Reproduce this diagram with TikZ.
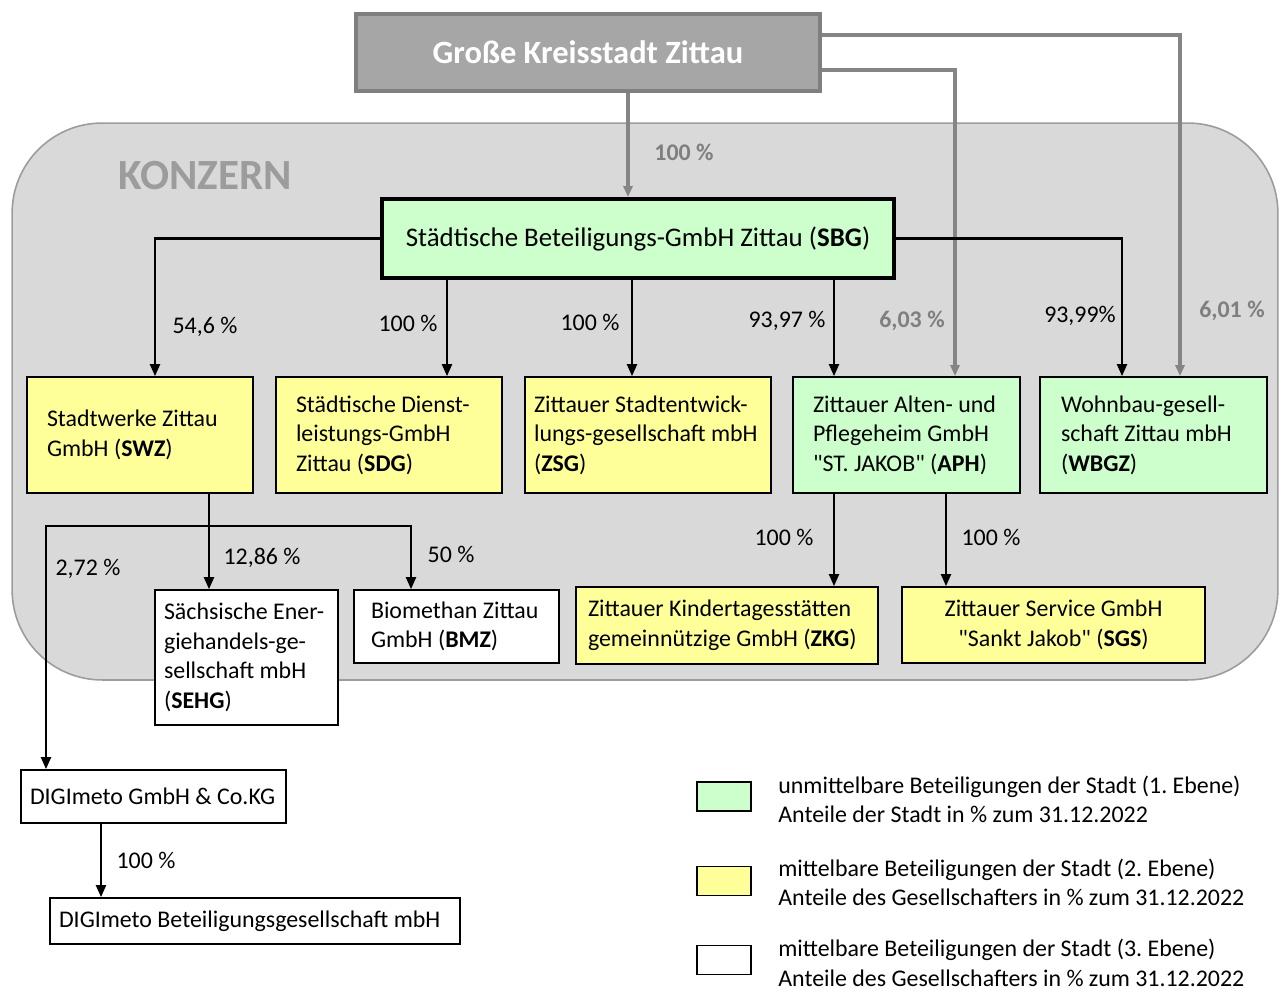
\documentclass[tikz,border=0pt]{standalone}
\usepackage{fontspec}
\setmainfont{Carlito}
\usepackage{xcolor}
\definecolor{konzFill}{HTML}{D9D9D9}
\definecolor{konzBorder}{HTML}{9C9C9C}
\definecolor{stadtFill}{HTML}{A6A6A6}
\definecolor{stadtBorder}{HTML}{7F7F7F}
\definecolor{lineGray}{HTML}{858585}
\definecolor{levelOne}{HTML}{CCFFCC}
\definecolor{levelTwo}{HTML}{FFFF99}
\usetikzlibrary{arrows.meta,positioning}
\newcommand{\boxfont}{\fontsize{13.6}{16.8}\selectfont}
\tikzset{
    firm/.style={
        draw=black,
        rectangle,
        line width=1pt,
        align=flush left,
        inner ysep=0pt,
        font=\boxfont
    },
    levelone/.style={firm, fill=levelOne},
    leveltwo/.style={firm, fill=levelTwo},
    levelthree/.style={firm, fill=white},
    stadt/.style={
        draw=stadtBorder,
        fill=stadtFill,
        line width=1.8pt,
        text=white,
        font=\fontsize{18.5}{22}\selectfont\bfseries
    },
    konzern/.style={
        draw=konzBorder,
        fill=konzFill,
        line width=0.9pt,
        rounded corners=1.8cm
    },
    link/.style={
        -{Triangle[length=0.24cm,width=0.2cm]},
        line width=1.2pt
    },
    cityline/.style={
        -{Triangle[length=0.22cm,width=0.18cm]},
        line width=1.8pt,
        draw=lineGray
    },
    share/.style={font=\boxfont, inner sep=1pt},
    cityshare/.style={font=\boxfont\bfseries, text=stadtBorder, inner sep=1pt},
    keytext/.style={anchor=west, align=flush left, inner sep=0pt, font=\boxfont}
}
\begin{document}
\begin{tikzpicture}[x=0.02cm, y=-0.02cm]
    \useasboundingbox (0,0) rectangle (1285,992);

    % Konzern area
    \node[konzern, minimum width=25.32cm, minimum height=11.14cm] (konzern) at (645,401.5) {};
    \node[font=\fontsize{24.5}{28}\selectfont\bfseries, text=konzBorder] (konzernlabel) at (205,176) {KONZERN};

    % Stadt
    \node[stadt, minimum width=9.28cm, minimum height=1.54cm] (stadt) at (588,52.5) {Große Kreisstadt Zittau};

    % 1. Ebene
    \node[levelone, minimum width=10.24cm, minimum height=1.58cm, line width=2.2pt, align=center,
          font=\fontsize{15.3}{18}\selectfont] (sbg) at (638,238.5)
        {Städtische Beteiligungs-GmbH Zittau (\textbf{SBG})};
    \node[levelone, text width=3.74cm, inner xsep=0.4cm, minimum height=2.32cm] (aph) at (906.5,435)
        {Zittauer Alten- und\\Pflegeheim GmbH\\\textquotedbl ST. JAKOB\textquotedbl{} (\textbf{APH})};
    \node[levelone, text width=3.70cm, inner xsep=0.42cm, minimum height=2.32cm] (wbgz) at (1153.5,435)
        {Wohnbau-gesell-\\schaft Zittau mbH\\(\textbf{WBGZ})};

    % 2. Ebene
    \node[leveltwo, text width=3.72cm, inner xsep=0.4cm, minimum height=2.32cm] (swz) at (140,435)
        {Stadtwerke Zittau\\GmbH (\textbf{SWZ})};
    \node[leveltwo, text width=3.72cm, inner xsep=0.4cm, minimum height=2.32cm] (sdg) at (389,435)
        {Städtische Dienst-\\leistungs-GmbH\\Zittau (\textbf{SDG})};
    \node[leveltwo, text width=4.56cm, inner xsep=0.18cm, minimum height=2.32cm] (zsg) at (648,435)
        {Zittauer Stadtentwick-\\lungs-gesellschaft mbH\\(\textbf{ZSG})};
    \node[leveltwo, text width=5.56cm, inner xsep=0.24cm, minimum height=1.54cm] (zkg) at (727,625.5)
        {Zittauer Kindertagesstätten\\gemeinnützige GmbH (\textbf{ZKG})};
    \node[leveltwo, minimum width=6.06cm, minimum height=1.52cm, align=center] (sgs) at (1053.5,625)
        {Zittauer Service GmbH\\\textquotedbl Sankt Jakob\textquotedbl{} (\textbf{SGS})};

    % 3. Ebene
    \node[levelthree, text width=3.30cm, inner xsep=0.18cm, minimum height=2.70cm] (sehg) at (246.5,657.5)
        {Sächsische Ener-\\giehandels-ge-\\sellschaft mbH\\(\textbf{SEHG})};
    \node[levelthree, text width=3.42cm, inner xsep=0.34cm, minimum height=1.46cm] (bmz) at (456.5,626.5)
        {Biomethan Zittau\\GmbH (\textbf{BMZ})};
    \node[levelthree, text width=4.94cm, inner xsep=0.18cm, minimum height=1.06cm] (digone) at (153.5,796.5)
        {DIGImeto GmbH \& Co.KG};
    \node[levelthree, text width=7.84cm, inner xsep=0.18cm, minimum height=0.92cm] (digtwo) at (255,921)
        {DIGImeto Beteiligungsgesellschaft mbH};

    % Stadt connectors
    \draw[cityline] (stadt.south -| 628,0) -- (sbg.north -| 628,0);
    \draw[cityline] (stadt.east |- 0,35) -| (wbgz.north -| 1180,0);
    \draw[cityline] (stadt.east |- 0,70) -| (aph.north -| 955,0);
    \node[cityshare] (s100) at (684,152) {100 \%};
    \node[cityshare] (s603) at (912,321) {6,03 \%};
    \node[cityshare] (s601) at (1232,311) {6,01 \%};

    % SBG connectors
    \draw[link] (sbg.west) -| (swz.north -| 155,0);
    \draw[link] (sbg.south -| 447,0) -- (sdg.north -| 447,0);
    \draw[link] (sbg.south -| 632,0) -- (zsg.north -| 632,0);
    \draw[link] (sbg.south -| 834,0) -- (aph.north -| 834,0);
    \draw[link] (sbg.east) -| (wbgz.north -| 1122,0);
    \node[share] (pswz) at (205,327) {54,6 \%};
    \node[share] (psdg) at (408,323) {100 \%};
    \node[share] (pzsg) at (590,322) {100 \%};
    \node[share] (paph) at (787,321) {93,97 \%};
    \node[share] (pwbgz) at (1080,316) {93,99\%};

    % SWZ connectors
    \coordinate (split) at (209,526);
    \draw[link] (swz.south -| split) -- (sehg.north -| split);
    \draw[link] (split) -| (bmz.north -| 411,0);
    \draw[link] (split) -| (digone.north -| 46,0);
    \node[share] (psehg) at (262,558) {12,86 \%};
    \node[share] (pbmz) at (451,554) {50 \%};
    \node[share] (pdig) at (88,569) {2,72 \%};

    % APH connectors
    \draw[link] (aph.south -| 834,0) -- (zkg.north -| 834,0);
    \draw[link] (aph.south -| 946,0) -- (sgs.north -| 946,0);
    \node[share] (pzkg) at (784,537) {100 \%};
    \node[share] (psgs) at (991,537) {100 \%};

    % DIGImeto
    \draw[link] (digone.south -| 101,0) -- (digtwo.north -| 101,0);
    \node[share] (pdigtwo) at (146,860) {100 \%};

    % Legend
    \node[levelone, minimum width=1.08cm, minimum height=0.58cm] (keyone) at (724,796.5) {};
    \node[leveltwo, minimum width=1.08cm, minimum height=0.58cm] (keytwo) at (724,881) {};
    \node[levelthree, minimum width=1.08cm, minimum height=0.58cm] (keythree) at (724,960) {};
    \node[keytext] (keyonetext) at (778,799.5)
        {unmittelbare Beteiligungen der Stadt (1.\ Ebene)\\Anteile der Stadt in \% zum 31.12.2022};
    \node[keytext] (keytwotext) at (778,882.5)
        {mittelbare Beteiligungen der Stadt (2.\ Ebene)\\Anteile des Gesellschafters in \% zum 31.12.2022};
    \node[keytext] (keythreetext) at (778,963)
        {mittelbare Beteiligungen der Stadt (3.\ Ebene)\\Anteile des Gesellschafters in \% zum 31.12.2022};
\end{tikzpicture}
\end{document}
